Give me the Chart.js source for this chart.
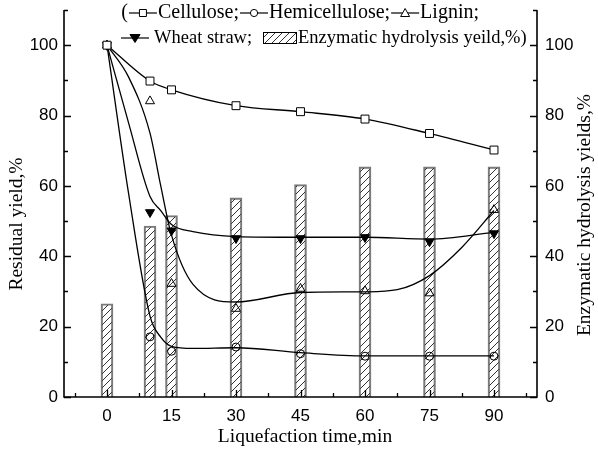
<!DOCTYPE html>
<html><head><meta charset="utf-8">
<script src="https://cdn.jsdelivr.net/npm/chart.js@4.4.1/dist/chart.umd.min.js"></script>
<style>html,body{margin:0;padding:0;background:#fff}#wrap{width:598px;height:449px;position:relative}</style>
</head><body><div id="wrap"><canvas id="c"></canvas></div>
<script>
const times = [0, 10, 15, 30, 45, 60, 75, 90];
const cellulose = [100, 89.8, 87.3, 82.8, 81.1, 79.0, 74.9, 70.2];
const hemicellulose = [100, 17.1, 13.0, 14.2, 12.3, 11.6, 11.6, 11.6];
const lignin = [100, 84.1, 32.2, 25.1, 30.8, 30.1, 29.5, 53.2];
const wheatStraw = [100, 52.5, 47.3, 45.1, 45.1, 45.4, 44.2, 46.5];
const enzymaticYield = [26.5, 48.6, 51.6, 56.6, 60.4, 65.4, 65.4, 65.4];
// fitted curves
const hemiFitX = [0, 5, 10, 12.5, 15, 20, 30, 45, 60, 75, 90];
const hemiFitY = [100, 58, 23, 17, 14.4, 13.8, 14.0, 12.6, 11.7, 11.7, 11.7];
const wheatFitX = [0, 5, 10, 12.5, 15, 20, 30, 45, 60, 75, 90];
const wheatFitY = [100, 78, 57, 53, 49, 47, 45.6, 45.4, 45.4, 44.9, 46.8];
const ligninFitX = [0, 5, 10, 12.5, 15, 20, 30, 45, 60, 67.5, 75, 82.5, 90];
const ligninFitY = [100, 91, 75, 60, 46, 32, 27, 29.7, 29.9, 30.5, 34.5, 42.5, 53];
const xTickLabels = [0, 15, 30, 45, 60, 75, 90];
const yTickLabels = [0, 20, 40, 60, 80, 100];

const SERIF = '"Liberation Serif", "Times New Roman", serif';
const SANS = '"Liberation Sans", Arial, sans-serif';

function hatchPattern(ctx){
  const s = 7, c = document.createElement('canvas');
  c.width = s; c.height = s;
  const g = c.getContext('2d');
  g.strokeStyle = '#333'; g.lineWidth = 1;
  g.beginPath();
  g.moveTo(-1, s + 1); g.lineTo(s + 1, -1);
  g.moveTo(-1, 1); g.lineTo(1, -1);
  g.moveTo(s - 1, s + 1); g.lineTo(s + 1, s - 1);
  g.stroke();
  return ctx.createPattern(c, 'repeat');
}

const canvas = document.getElementById('c');
const ctx0 = canvas.getContext('2d');
const hatch = hatchPattern(ctx0);

const pts = (xs, ys) => xs.map((x, i) => ({x: x, y: ys[i]}));

function fitLine(xs, ys){
  return {type: 'line', data: pts(xs, ys), borderColor: '#000', borderWidth: 1.3,
    pointRadius: 0, cubicInterpolationMode: 'monotone', fill: false, yAxisID: 'y', order: 2};
}
function markers(ys, style, radius, fillColor, rotation){
  return {type: 'line', data: pts(times, ys), showLine: false, pointStyle: style,
    pointRadius: radius, pointBackgroundColor: fillColor, pointBorderColor: '#000',
    pointBorderWidth: 1, pointRotation: rotation || 0, yAxisID: 'y', order: 1};
}

function drawMarker(ctx, type, x, y){
  ctx.save();
  ctx.lineWidth = 1; ctx.strokeStyle = '#000';
  ctx.beginPath();
  if (type === 'rect'){ ctx.rect(x - 3.5, y - 3.5, 7, 7); ctx.fillStyle = '#fff'; ctx.fill(); ctx.stroke(); }
  else if (type === 'circle'){ ctx.arc(x, y, 3.6, 0, Math.PI * 2); ctx.fillStyle = '#fff'; ctx.fill(); ctx.stroke(); }
  else if (type === 'tri'){ ctx.moveTo(x, y - 4.5); ctx.lineTo(x + 4.5, y + 3.5); ctx.lineTo(x - 4.5, y + 3.5); ctx.closePath(); ctx.fillStyle = '#fff'; ctx.fill(); ctx.stroke(); }
  else if (type === 'dtri'){ ctx.moveTo(x, y + 4.5); ctx.lineTo(x + 5, y - 3.5); ctx.lineTo(x - 5, y - 3.5); ctx.closePath(); ctx.fillStyle = '#000'; ctx.fill(); ctx.stroke(); }
  ctx.restore();
}

function legendSym(ctx, type, x, y){
  ctx.save(); ctx.strokeStyle = '#000'; ctx.lineWidth = 1.2;
  ctx.beginPath(); ctx.moveTo(x + 1, y); ctx.lineTo(x + 29, y); ctx.stroke();
  ctx.restore();
  drawMarker(ctx, type, x + 15, y);
  return x + 30;
}

const deco = {
  id: 'deco',
  afterDraw(chart){
    const ctx = chart.ctx;
    const {left, right, top, bottom} = chart.chartArea;
    const xs = chart.scales.x, ys = chart.scales.y;
    ctx.save();
    ctx.strokeStyle = '#000';
    ctx.lineWidth = 1.6;
    ctx.beginPath();
    ctx.moveTo(left, top); ctx.lineTo(left, bottom); ctx.lineTo(right, bottom); ctx.lineTo(right, top);
    ctx.stroke();
    ctx.lineWidth = 1.3;
    ctx.beginPath();
    for (let v = 0; v <= 110; v += 10){
      const py = Math.round(ys.getPixelForValue(v)) + 0.5;
      const len = v % 20 === 0 ? 7 : 4;
      ctx.moveTo(left, py); ctx.lineTo(left + len, py);
      ctx.moveTo(right, py); ctx.lineTo(right - len, py);
    }
    for (let v = -7.5; v <= 97.5; v += 7.5){
      const px = Math.round(xs.getPixelForValue(v)) + 0.5;
      const len = v % 15 === 0 ? 7 : 4;
      ctx.moveTo(px, bottom); ctx.lineTo(px, bottom - len);
    }
    ctx.stroke();

    // axis titles
    ctx.fillStyle = '#000';
    ctx.textAlign = 'center'; ctx.textBaseline = 'middle';
    ctx.font = '19.5px ' + SERIF;
    ctx.fillText('Liquefaction time,min', 305, 437);
    ctx.save(); ctx.translate(17, 224); ctx.rotate(-Math.PI / 2);
    ctx.fillText('Residual yield,%', 0, 0); ctx.restore();
    ctx.save(); ctx.translate(585, 215); ctx.rotate(-Math.PI / 2);
    ctx.fillText('Enzymatic hydrolysis yields,%', 0, 0); ctx.restore();

    // legend line 1
    ctx.textAlign = 'left';
    ctx.font = '20px ' + SERIF;
    const parts = ['(', 'Cellulose;', 'Hemicellulose;', 'Lignin;'];
    let total = 90;
    parts.forEach(p => { total += ctx.measureText(p).width; });
    let x = 479 - total, y = 13;
    ctx.fillText('(', x, y); x += ctx.measureText('(').width;
    x = legendSym(ctx, 'rect', x, y);
    ctx.fillText('Cellulose;', x, y); x += ctx.measureText('Cellulose;').width;
    x = legendSym(ctx, 'circle', x, y);
    ctx.fillText('Hemicellulose;', x, y); x += ctx.measureText('Hemicellulose;').width;
    x = legendSym(ctx, 'tri', x, y);
    ctx.fillText('Lignin;', x, y);
    // legend line 2
    ctx.font = '18.5px ' + SERIF;
    x = 120; y = 38;
    x = legendSym(ctx, 'dtri', x, y) + 4;
    ctx.fillText('Wheat straw;', x, y);
    x = 263;
    ctx.fillStyle = hatch;
    ctx.fillRect(x, y - 6, 33, 12);
    ctx.strokeStyle = '#000'; ctx.lineWidth = 1;
    ctx.strokeRect(x + 0.5, y - 5.5, 33, 11);
    x += 35;
    ctx.fillStyle = '#000';
    ctx.fillText('Enzymatic hydrolysis yeild,%)', x, y);
    ctx.restore();
  }
};

const tickFont = {family: SANS, size: 17};
const noPadV = s => { s.paddingTop = 0; s.paddingBottom = 0; };

new Chart(canvas, {
  type: 'scatter',
  data: {
    datasets: [
      {type: 'bar', data: pts(times, enzymaticYield), yAxisID: 'y2', backgroundColor: hatch,
        borderColor: '#7a7a7a', borderWidth: 1.5, barThickness: 12, order: 10},
      {type: 'line', data: pts(times, cellulose), borderColor: '#000', borderWidth: 1.3, pointRadius: 0,
        cubicInterpolationMode: 'monotone', yAxisID: 'y', order: 2},
      fitLine(hemiFitX, hemiFitY),
      fitLine(wheatFitX, wheatFitY),
      fitLine(ligninFitX, ligninFitY),
      markers(cellulose, 'rect', 5.6, '#fff'),
      markers(hemicellulose, 'circle', 4, 'rgba(0,0,0,0)'),
      markers(lignin, 'triangle', 5.2, 'rgba(0,0,0,0)'),
      markers(wheatStraw, 'triangle', 5.2, '#000', 180)
    ]
  },
  options: {
    responsive: true, maintainAspectRatio: false, animation: false,
    layout: {padding: {top: 10, left: 0, right: 0, bottom: 0}},
    plugins: {legend: {display: false}, tooltip: {enabled: false}},
    scales: {
      x: {type: 'linear', min: -10, max: 100, offset: false,
        grid: {display: false, drawTicks: false}, border: {display: false},
        ticks: {color: '#000', font: tickFont, padding: 9, maxRotation: 0, autoSkip: false},
        afterBuildTicks: s => { s.ticks = xTickLabels.map(v => ({value: v})); },
        afterFit: s => { s.height = 52; s.paddingLeft = 0; s.paddingRight = 0; }},
      y: {type: 'linear', position: 'left', min: 0, max: 110,
        grid: {display: false, drawTicks: false}, border: {display: false},
        ticks: {color: '#000', font: tickFont, padding: 6},
        afterBuildTicks: s => { s.ticks = yTickLabels.map(v => ({value: v})); },
        afterFit: s => { s.width = 64; noPadV(s); }},
      y2: {type: 'linear', position: 'right', min: 0, max: 110,
        grid: {display: false, drawTicks: false}, border: {display: false},
        ticks: {color: '#000', font: tickFont, padding: 8},
        afterBuildTicks: s => { s.ticks = yTickLabels.map(v => ({value: v})); },
        afterFit: s => { s.width = 61; noPadV(s); }}
    }
  },
  plugins: [deco]
});
</script>
</body></html>
